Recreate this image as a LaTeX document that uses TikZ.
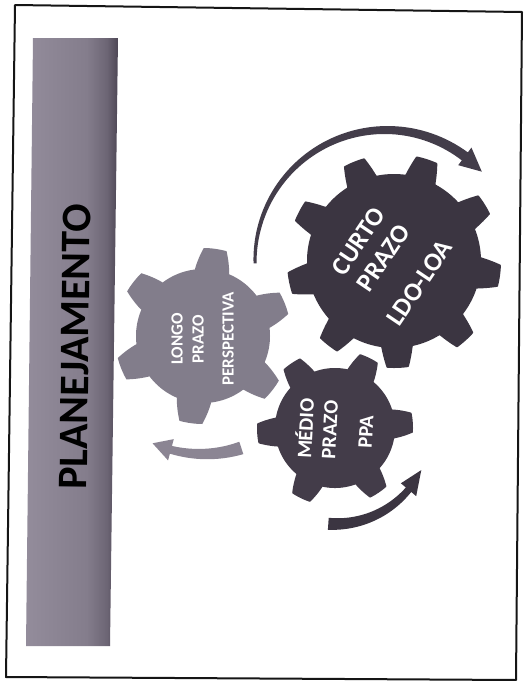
\documentclass[tikz,border=0pt]{standalone}
\usepackage{fontspec}
\setmainfont{Carlito}
\definecolor{framec}{HTML}{151515}
\definecolor{bandL}{HTML}{938C9B}
\definecolor{bandM}{HTML}{847D8C}
\definecolor{bandD}{HTML}{6C6574}
\definecolor{bandR}{HTML}{4E4755}
\definecolor{lightgear}{HTML}{827D8B}
\definecolor{darkgear}{HTML}{3B3541}
\definecolor{midgear}{HTML}{433C49}
\definecolor{lightarrow}{HTML}{8B8593}
\definecolor{darkarrow}{HTML}{433D4A}
\pgfdeclarehorizontalshading{bandshade}{100bp}{color(0bp)=(bandL); color(25bp)=(bandL); color(58bp)=(bandM); color(69bp)=(bandD); color(75bp)=(bandR); color(100bp)=(bandR)}
% #1 style, #2 cx, #3 cy, #4 teeth, #5 r body, #6 r tip, #7 phase, #8 half base angle, #9 half tip angle
\newcommand\gearfill[9]{%
  \begin{scope}[shift={(#2,#3)},yscale=-1]
    \pgfmathsetmacro\gstep{360/#4}
    \fill[#1] plot[domain=0:360,samples=721,variable=\t]
      (\t:{#5+(#6-#5)*max(0,min(1,(#8-abs(mod(\t-#7+720+\gstep/2,\gstep)-\gstep/2))/(#8-#9)))}) -- cycle;
  \end{scope}}
% #1 style, #2 cx, #3 cy, #4 r, #5 tail angle, #6 head base angle, #7 tail width, #8 neck width, #9 tip angle; \headw = half head width
\newcommand\arcarrow[9]{%
  \begin{scope}[shift={(#2,#3)},yscale=-1]
    \fill[#1] plot[domain=#5:#6,samples=60,variable=\t] (\t:{#4+(#7+(#8-#7)*(\t-#5)/(#6-#5))/2})
      -- (#6:{#4+\headw}) -- (#9:#4) -- (#6:{#4-\headw})
      -- plot[domain=#6:#5,samples=60,variable=\t] (\t:{#4-(#7+(#8-#7)*(\t-#5)/(#6-#5))/2}) -- cycle;
  \end{scope}}
\tikzset{
  geartext/.style={text=white, inner sep=0pt, align=center},
  titletext/.style={text=black, inner sep=0pt, font=\fontsize{42}{42}\selectfont\bfseries},
}
\begin{document}
\begin{tikzpicture}[x=1pt,y=-1pt]
\useasboundingbox (0,0) rectangle (526,681);
\fill[white] (0,0) rectangle (526,681);
% frame
\draw[framec,line width=2pt,line join=round] (15,5) -- (522,12) -- (516,680) -- (6,677) -- cycle;
% title band
\shade[shading=bandshade] (33,38) -- (118,38) -- (110,646) -- (26,646) -- cycle;
\node[titletext, rotate=89.3] (title) at (75,347) {PLANEJAMENTO};
% gears
\gearfill{lightgear}{203}{336}{6}{67}{88}{22}{15}{7.5}
\gearfill{midgear}{335}{428}{6}{60}{78}{4}{14}{7.3}
\gearfill{darkgear}{394}{261}{9}{87}{107}{32}{10.4}{5.9}
% arrows
\def\headw{11}
\arcarrow{darkarrow}{386}{261}{131}{181}{53}{3}{10}{43}
\def\headw{10}
\arcarrow{darkgear}{335}{428}{96}{-94}{-40}{12}{7}{-26}
\def\headw{11}
\arcarrow{lightarrow}{203}{330}{124}{-72}{-105}{13}{8}{-114}
% gear texts
\node[geartext, rotate=90, font=\fontsize{17}{21}\selectfont\bfseries] (longo) at (202.5,339) {LONGO\\PRAZO\\[9pt]PERSPECTIVA};
\node[geartext, rotate=87, font=\fontsize{20.5}{24}\selectfont\bfseries] (medio) at (334,430) {MÉDIO\\PRAZO\\[12pt]PPA};
\node[geartext, rotate=56, font=\fontsize{26}{30}\selectfont\bfseries] (curto) at (389,262) {CURTO\\PRAZO\\[14pt]LDO-LOA};
\end{tikzpicture}
\end{document}
